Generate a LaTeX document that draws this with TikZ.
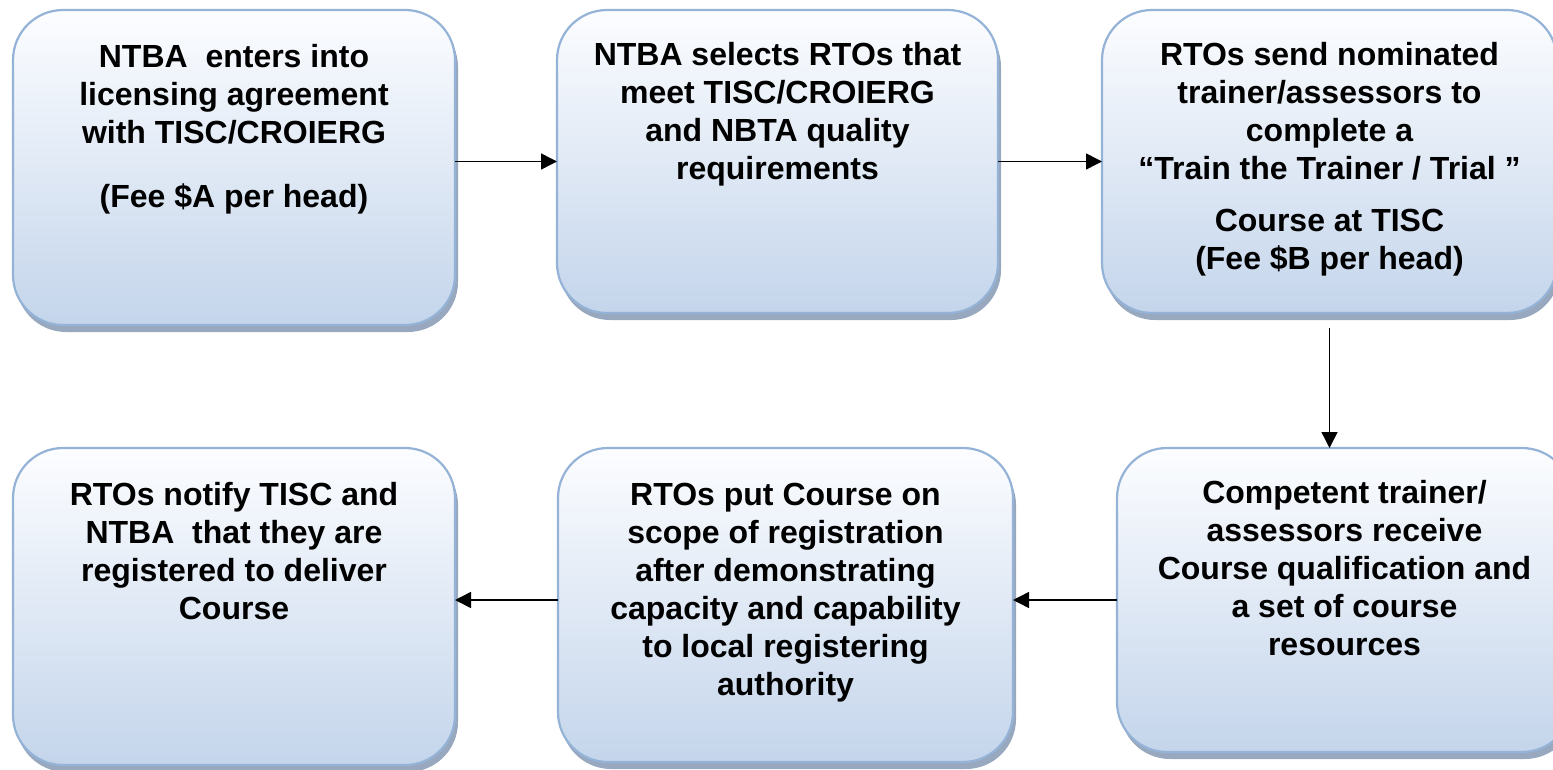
\documentclass[tikz,border=0pt]{standalone}
\usepackage{fontspec}
\setmainfont{Liberation Sans}
\usetikzlibrary{arrows.meta,shadows}
\definecolor{boxtop}{RGB}{252,253,255}
\definecolor{boxbot}{RGB}{196,213,235}
\definecolor{boxline}{RGB}{149,179,215}
\definecolor{boxshadow}{RGB}{152,168,190}
\tikzset{
  flowbox/.style={rectangle, rounded corners=50pt, draw=boxline, line width=2.2pt,
    top color=boxtop, bottom color=boxbot, inner sep=0pt, outer sep=0pt,
    drop shadow={shadow xshift=3pt, shadow yshift=-7pt, fill=boxshadow, opacity=1}},
  boxtext/.style={anchor=north, align=center, inner sep=0pt,
    font=\fontsize{32}{38}\selectfont\bfseries},
  arr/.style={line width=1.5pt, -{Triangle[length=16pt,width=16pt]}}
}
\newcommand{\firstline}{\rule{0pt}{24pt}}
\begin{document}
\begin{tikzpicture}[x=1pt,y=-1pt]
\clip (0,0) rectangle (1553,770);
\fill[white] (0,0) rectangle (1553,770);
% boxes
\node[flowbox, minimum width=442pt, minimum height=315pt] (b1) at (234,167.5) {};
\node[flowbox, minimum width=441pt, minimum height=303pt] (b2) at (777.5,161.5) {};
\node[flowbox, minimum width=455pt, minimum height=303pt] (b3) at (1329.5,161.5) {};
\node[flowbox, minimum width=455pt, minimum height=304pt] (b4) at (1344.5,600) {};
\node[flowbox, minimum width=455pt, minimum height=314pt] (b5) at (785.5,605) {};
\node[flowbox, minimum width=442pt, minimum height=317pt] (b6) at (234,606.5) {};
% texts
\node[boxtext] (t1) at ([yshift=-33pt]b1.north) {\firstline NTBA~ enters into\\licensing agreement\\with TISC/CROIERG\\[26pt](Fee \$A per head)};
\node[boxtext] (t2) at ([yshift=-31pt]b2.north) {\firstline NTBA selects RTOs that\\meet TISC/CROIERG\\and NBTA quality\\requirements};
\node[boxtext] (t3) at ([yshift=-31pt]b3.north) {\firstline RTOs send nominated\\trainer/assessors to\\complete a\\“Train the Trainer / Trial ”\\[14pt]Course at TISC\\(Fee \$B per head)};
\node[boxtext] (t4) at ([yshift=-31pt]b4.north) {\firstline Competent trainer/\\assessors receive\\Course qualification and\\a set of course\\resources};
\node[boxtext] (t5) at ([yshift=-33pt]b5.north) {\firstline RTOs put Course on\\scope of registration\\after demonstrating\\capacity and capability\\to local registering\\authority};
\node[boxtext] (t6) at ([yshift=-33pt]b6.north) {\firstline RTOs notify TISC and\\NTBA~ that they are\\registered to deliver\\Course};
% connectors
\coordinate (v0) at ([yshift=-15pt]b3.south);
\draw[arr] (b1.east |- b2.west) -- (b2.west);
\draw[arr] (b2.east) -- (b3.west);
\draw[arr] (v0) -- (v0 |- b4.north);
\draw[arr] (b4.west) -- (b5.east |- b4.west);
\draw[arr] (b5.west |- b4.west) -- (b6.east |- b4.west);
\end{tikzpicture}
\end{document}
